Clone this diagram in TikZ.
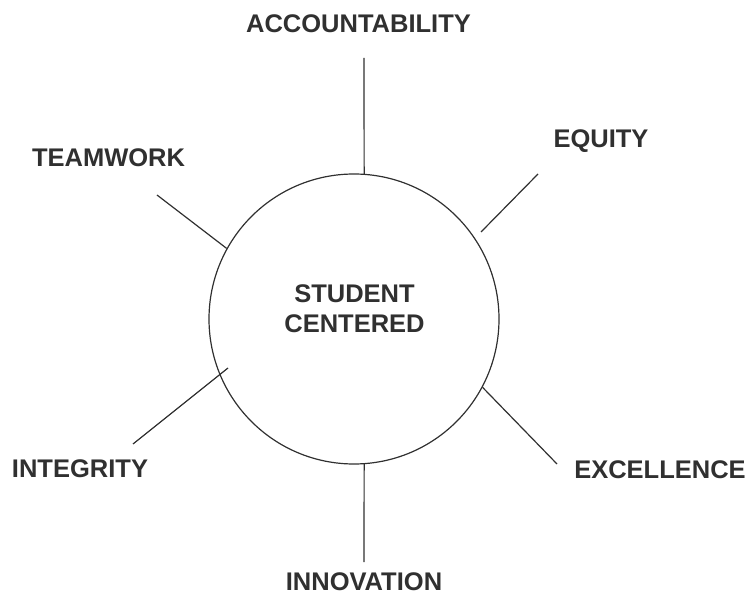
\documentclass[tikz,border=0pt]{standalone}
\usepackage{fontspec}
\setmainfont{Liberation Sans}
\definecolor{ink}{HTML}{303030}
\begin{document}
\begin{tikzpicture}[x=1pt,y=1pt]
	\useasboundingbox (0,0) rectangle (747,595);
	\begin{scope}[every node/.style={font=\fontsize{25.5}{30}\selectfont\bfseries,text=ink},line width=1.2pt,draw=ink]
		\tikzstyle{value}=[anchor=base,inner sep=0pt];
		\path (354,276) node (sc) [draw=ink,line width=1.2pt,shape=circle,minimum size=290pt,inner sep=0pt] {};
		\path (354.5,286) node (scl) [align=center,inner sep=0pt] {STUDENT\\CENTERED};
		\path (358.5,562) node (acc)  [value] {ACCOUNTABILITY};
		\path (108.5,428) node (team) [value] {TEAMWORK};
		\path (601,447)   node (eq)   [value] {EQUITY};
		\path (80,118)    node (intg) [value] {INTEGRITY};
		\path (660,117)   node (exc)  [value] {EXCELLENCE};
		\path (364,5)     node (inn)  [value] {INNOVATION};
		\coordinate (acc-e)  at (364,537);
		\coordinate (team-e) at (157,400);
		\coordinate (eq-e)   at (538,421);
		\coordinate (eq-s)   at (481,363);
		\coordinate (intg-e) at (133,151);
		\coordinate (intg-s) at (228,227);
		\coordinate (exc-e)  at (557,131);
		\coordinate (inn-e)  at (364,33);
		\draw (sc.86)    -- (acc-e);
		\draw (sc.151)   -- (team-e);
		\draw (eq-s)     -- (eq-e);
		\draw (intg-s)   -- (intg-e);
		\draw (sc.-28.5) -- (exc-e);
		\draw (sc.-86)   -- (inn-e);
	\end{scope}
\end{tikzpicture}
\end{document}
